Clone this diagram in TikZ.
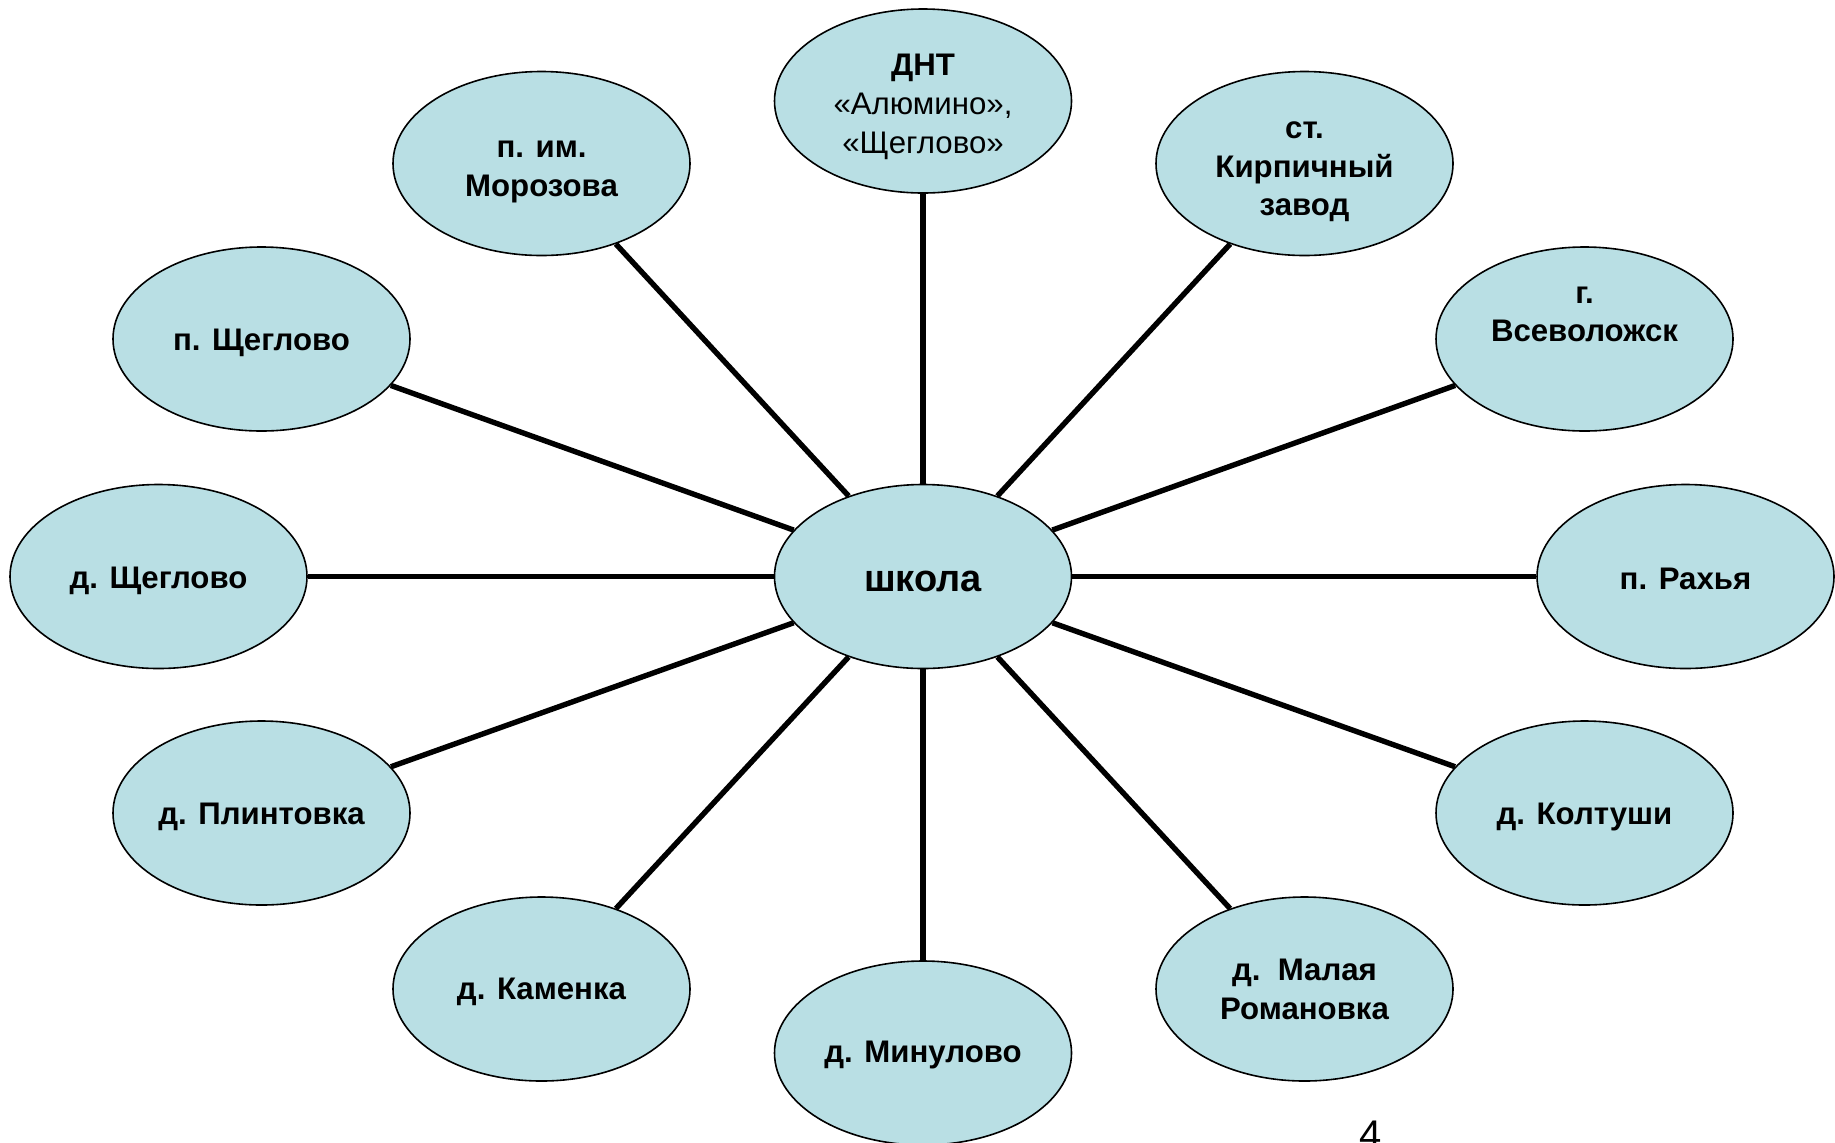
\documentclass[tikz,border=0pt]{standalone}
\usepackage{fontspec}
\setmainfont{Liberation Sans}
\usetikzlibrary{shapes.geometric}
\definecolor{bubble}{RGB}{185,223,228}
\tikzset{
  place/.style={ellipse, draw=black, line width=0.8pt, fill=bubble,
    minimum width=148.5pt, minimum height=92pt, inner sep=0pt},
  lbl/.style={align=center, inner sep=0pt, font=\fontsize{15.6}{19.3}\selectfont\bfseries},
  hublbl/.style={lbl, font=\fontsize{19}{22}\selectfont\bfseries},
  conn/.style={line width=2.7pt, black},
  pagenum/.style={inner sep=0pt, anchor=base, font=\fontsize{20}{24}\selectfont}
}
\begin{document}
\begin{tikzpicture}[x=0.5pt,y=-0.5pt]
\useasboundingbox (0,0) rectangle (1835,1142);
% ellipses
\node[place] (s)   at (923,576.5) {};
\node[place] (n0)  at (923,101) {};
\node[place] (n1)  at (1304.5,163.5) {};
\node[place] (n2)  at (1584.5,339) {};
\node[place] (n3)  at (1685.5,576.5) {};
\node[place] (n4)  at (1584.5,813) {};
\node[place] (n5)  at (1304.5,989) {};
\node[place] (n6)  at (923,1053) {};
\node[place] (n7)  at (541.5,989) {};
\node[place] (n8)  at (261.5,813) {};
\node[place] (n9)  at (158.5,576.5) {};
\node[place] (n10) at (261.5,339) {};
\node[place] (n11) at (541.5,163.5) {};
% texts
\node[hublbl] (ts)  at ([yshift=-2.3pt]s.center) {школа};
\node[lbl] (t0)  at ([yshift=-2.9pt]n0.center) {ДНТ\\{\mdseries «Алюмино»,}\\{\mdseries «Щеглово»}};
\node[lbl] (t1)  at ([yshift=-4.2pt]n1.center) {ст.\\Кирпичный\\завод};
\node[lbl] (t2)  at ([yshift=12.3pt]n2.center) {г.\\Всеволожск};
\node[lbl] (t3)  at ([yshift=-1.2pt]n3.center) {п. Рахья};
\node[lbl] (t4)  at ([yshift=-1.8pt]n4.center) {д. Колтуши};
\node[lbl] (t5)  at ([yshift=-0.3pt]n5.center) {д.\ \ Малая\\Романовка};
\node[lbl] (t6)  at ([yshift=-1.2pt]n6.center) {д. Минулово};
\node[lbl] (t7)  at ([yshift=-1.2pt]n7.center) {д. Каменка};
\node[lbl] (t8)  at ([yshift=-1.8pt]n8.center) {д. Плинтовка};
\node[lbl] (t9)  at ([yshift=-2.3pt]n9.center) {д. Щеглово};
\node[lbl] (t10) at ([yshift=-1.8pt]n10.center) {п. Щеглово};
\node[lbl] (t11) at ([yshift=-4.2pt]n11.center) {п. им.\\Морозова};
% connectors
\foreach \t in {n0,n1,n2,n3,n4,n5,n6,n7,n8,n9,n10,n11}
  \draw[conn] (s) -- (\t);
% page number (cut at the lower edge, as in the reference)
\node[pagenum] (pg) at (1371,1148.5) {4};
\end{tikzpicture}
\end{document}
